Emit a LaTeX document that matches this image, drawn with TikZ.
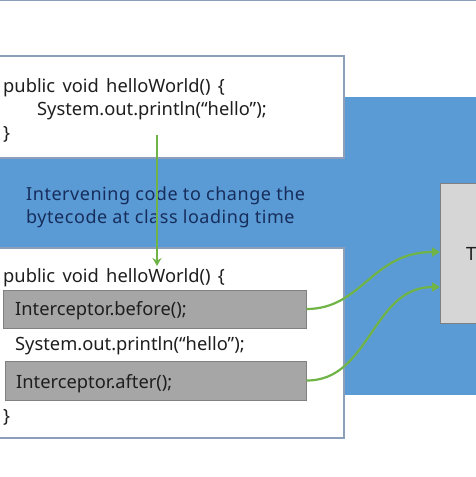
\documentclass[tikz,border=0pt]{standalone}
\usepackage{fontspec}
\setmainfont{Noto Sans}
\usetikzlibrary{arrows.meta}

\definecolor{bandblue}{RGB}{91,155,213}
\definecolor{boxline}{RGB}{140,158,185}
\definecolor{callgray}{RGB}{166,166,166}
\definecolor{calledge}{RGB}{128,128,128}
\definecolor{agentgray}{RGB}{214,214,214}
\definecolor{weavegreen}{RGB}{112,180,71}
\definecolor{notenavy}{RGB}{22,45,92}
\definecolor{codeink}{RGB}{30,30,30}

\newcommand\codefont{\fontsize{18.3}{21}\selectfont\spaceskip=0.4em\relax}
\tikzset{
  codebox/.style={draw=boxline,line width=1.2pt,fill=white},
  codeline/.style={anchor=base west,inner sep=0pt,text=codeink,font=\codefont},
  callbox/.style={draw=calledge,line width=1pt,fill=callgray,inner sep=0pt},
  note/.style={anchor=base west,inner sep=0pt,text=notenavy,font=\fontsize{18}{21}\selectfont\addfontfeature{LetterSpace=3}},
  weave/.style={weavegreen,line width=2.2pt,-{Triangle[width=9pt,length=8pt]}}
}

\begin{document}
\begin{tikzpicture}[x=1pt,y=-1pt]
  \useasboundingbox (0,0) rectangle (476,477);
  \clip (0,0) rectangle (476,477);

  \draw[boxline,line width=1.5pt] (0,0.5) -- (476,0.5);
  \fill[bandblue] (0,97) rectangle (476,395);

  % original method
  \draw[codebox] (-2,56) rectangle (344,158);
  \node[codeline] (head1) at (3,92) {public void helloWorld() \{};
  \node[codeline] (body1) at (37,115) {System.out.println(“hello”);};
  \node[codeline] (end1) at (3,139) {\}};

  \node[note] (note1) at (26,200) {Intervening code to change the};
  \node[note] (note2) at (26,223) {bytecode at class loading time};

  % woven method
  \draw[codebox] (-2,248) rectangle (344,438);
  \node[codeline] (head2) at (3,282) {public void helloWorld() \{};
  \node[callbox,minimum width=303pt,minimum height=38pt] (before) at (154.5,309) {};
  \node[codeline] at (15,315) {Interceptor.before();};
  \node[codeline] (body2) at (15,350) {System.out.println(“hello”);};
  \node[callbox,minimum width=301pt,minimum height=39pt] (after) at (155.5,380.5) {};
  \node[codeline] at (16,388) {Interceptor.after();};
  \node[codeline] (end2) at (3,422) {\}};

  % agent box, cut at the edge
  \node[draw=calledge,line width=1pt,fill=agentgray,minimum width=80pt,minimum height=140pt] (agent) at (480,253) {};
  \node[codeline] at (466,260) {T};

  \coordinate (src) at (157,135);
  \coordinate (dst) at (157,266);
  \draw[weavegreen,line width=1.5pt,-{Stealth[width=9pt,length=8pt]}] (src) -- (dst);

  \coordinate (in1) at (440,252);
  \coordinate (in2) at (440,287);
  \draw[weave] (before.east) .. controls (362,309) and (372,252) .. (in1);
  \draw[weave] (after.east) .. controls (370,381) and (372,287) .. (in2);
\end{tikzpicture}
\end{document}
